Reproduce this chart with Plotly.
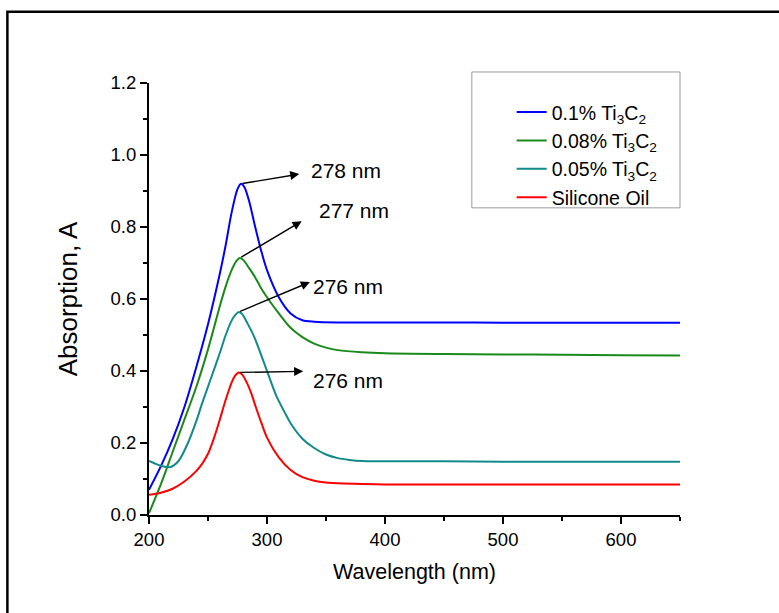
import plotly.graph_objects as go

# ---- data ----
wl_blue = [200, 210, 220, 230, 240, 250, 260, 265, 270, 275, 278, 281, 285, 290, 295, 300, 310, 320, 330, 340, 360, 400, 450, 500, 550, 600, 650]
a_blue = [0.07, 0.135, 0.21, 0.30, 0.41, 0.53, 0.67, 0.75, 0.84, 0.905, 0.92, 0.91, 0.87, 0.80, 0.735, 0.68, 0.605, 0.56, 0.541, 0.537, 0.535, 0.535, 0.535, 0.534, 0.534, 0.534, 0.534]

wl_green = [200, 210, 220, 230, 240, 250, 260, 265, 270, 274, 277, 280, 285, 290, 295, 300, 310, 320, 330, 340, 350, 360, 380, 400, 450, 500, 550, 600, 650]
a_green = [0.005, 0.085, 0.175, 0.265, 0.355, 0.46, 0.58, 0.635, 0.68, 0.705, 0.714, 0.708, 0.685, 0.66, 0.63, 0.605, 0.56, 0.52, 0.494, 0.476, 0.465, 0.458, 0.452, 0.449, 0.447, 0.446, 0.445, 0.444, 0.443]

wl_teal = [200, 205, 210, 218, 225, 233, 240, 245, 252, 260, 265, 270, 273, 276, 279, 283, 289, 295, 300, 308, 315, 320, 330, 340, 350, 360, 370, 380, 400, 450, 500, 550, 600, 650]
a_teal = [0.15, 0.143, 0.137, 0.133, 0.15, 0.2, 0.26, 0.31, 0.375, 0.45, 0.50, 0.54, 0.555, 0.564, 0.558, 0.535, 0.496, 0.445, 0.40, 0.33, 0.285, 0.255, 0.212, 0.186, 0.168, 0.158, 0.153, 0.15, 0.149, 0.149, 0.148, 0.148, 0.148, 0.148]

wl_red = [200, 210, 220, 230, 240, 245, 250, 255, 260, 265, 270, 273, 276, 279, 283, 287, 290, 295, 300, 310, 320, 330, 340, 350, 360, 380, 400, 450, 500, 550, 600, 650]
a_red = [0.056, 0.062, 0.073, 0.093, 0.122, 0.142, 0.17, 0.213, 0.265, 0.32, 0.368, 0.387, 0.396, 0.39, 0.367, 0.335, 0.305, 0.258, 0.215, 0.16, 0.125, 0.105, 0.095, 0.09, 0.088, 0.086, 0.085, 0.085, 0.085, 0.085, 0.085, 0.085]

names = ["0.1% Ti<sub>3</sub>C<sub>2</sub>", "0.08% Ti<sub>3</sub>C<sub>2</sub>",
         "0.05% Ti<sub>3</sub>C<sub>2</sub>", "Silicone Oil"]
colors = ["#0000ff", "#1a8a1a", "#138a8a", "#ff0000"]

peak_wl = [278, 277, 276, 276]
peak_a = [0.92, 0.714, 0.564, 0.396]
peak_labels = ["278 nm", "277 nm", "276 nm", "276 nm"]

FONT = "Arial, 'Liberation Sans', sans-serif"

fig = go.Figure()
for x, y, n, c in zip([wl_blue, wl_green, wl_teal, wl_red],
                      [a_blue, a_green, a_teal, a_red], names, colors):
    fig.add_trace(go.Scatter(x=x, y=y, name=n, mode="lines",
                             line=dict(color=c, width=2, shape="spline", smoothing=0.8)))

# arrow heads and label positions (layout)
arrow_heads = [(327.4, 0.947), (329.4, 0.816), (336.4, 0.647), (330.7, 0.399)]
label_pos = [(335.5, 0.957), (342.5, 0.846), (337.0, 0.635), (337.0, 0.373)]

annotations = []
for (hx, hy), pw, pa, (lx, ly), lab in zip(arrow_heads, peak_wl, peak_a, label_pos, peak_labels):
    annotations.append(dict(x=hx, y=hy, ax=pw, ay=pa, xref="x", yref="y",
                            axref="x", ayref="y", text="", showarrow=True,
                            arrowhead=2, arrowsize=1.3, arrowwidth=1.4, arrowcolor="black"))
    annotations.append(dict(x=lx, y=ly, xref="x", yref="y", text=lab, showarrow=False,
                            xanchor="left", yanchor="middle",
                            font=dict(family=FONT, size=21, color="black")))

shapes = [
    # outer frame
    dict(type="rect", xref="paper", yref="paper", x0=-0.2667, x1=1.3, y0=-0.35, y1=1.165,
         line=dict(color="black", width=2.5), fillcolor="rgba(0,0,0,0)", layer="below"),
    # legend box
    dict(type="rect", xref="paper", yref="paper", x0=0.608, x1=1.0, y0=0.711, y1=1.0255,
         line=dict(color="#999999", width=1), fillcolor="rgba(0,0,0,0)"),
]

axis_common = dict(showline=True, linecolor="black", linewidth=2, ticks="outside",
                   ticklen=7, tickwidth=2, tickcolor="black", showgrid=False, zeroline=False,
                   tickfont=dict(family=FONT, size=18.5, color="black"), mirror=False)

fig.update_layout(
    width=779, height=613,
    margin=dict(l=148.7, r=99, t=83.3, b=97.7),
    paper_bgcolor="white", plot_bgcolor="white",
    xaxis=dict(range=[200, 650], dtick=100, tick0=200,
               minor=dict(ticks="outside", ticklen=4, tickwidth=2, tickcolor="black", dtick=50),
               title=dict(text="Wavelength (nm)", font=dict(family=FONT, size=21.5, color="black"), standoff=15),
               **axis_common),
    yaxis=dict(range=[0, 1.2], dtick=0.2, tick0=0, tickformat=".1f",
               minor=dict(ticks="outside", ticklen=4, tickwidth=2, tickcolor="black", dtick=0.1),
               title=dict(text="Absorption, A", font=dict(family=FONT, size=26, color="black"), standoff=25),
               **axis_common),
    legend=dict(x=0.683, y=0.977, xanchor="left", yanchor="top",
                bgcolor="rgba(0,0,0,0)", borderwidth=0, tracegroupgap=0,
                font=dict(family=FONT, size=19.5, color="black")),
    annotations=annotations,
    shapes=shapes,
)

fig.write_html("out.html")
